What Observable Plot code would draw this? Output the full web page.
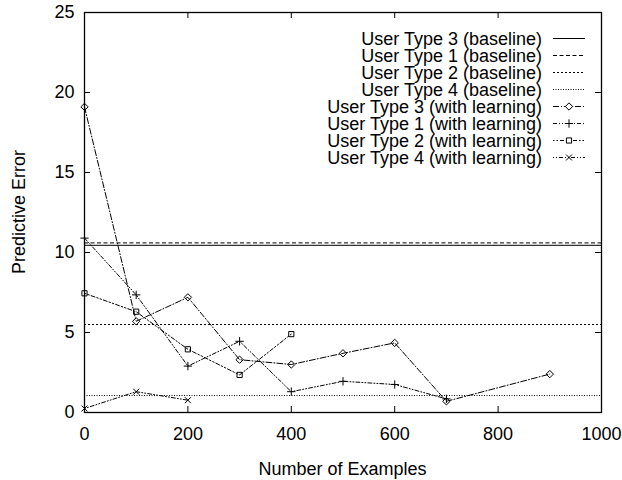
<!DOCTYPE html>
<html>
<head>
<meta charset="utf-8">
<script src="https://cdn.jsdelivr.net/npm/d3@7"></script>
<script src="https://cdn.jsdelivr.net/npm/@observablehq/plot@0.6"></script>
<style>
  body { margin: 0; background: #fff; }
  svg { font-family: "Liberation Sans", Arial, sans-serif; }
</style>
</head>
<body>
<div id="chart"></div>
<script>
// ---- data ----
const baselineNames = ["User Type 3 (baseline)", "User Type 1 (baseline)", "User Type 2 (baseline)", "User Type 4 (baseline)"];
const baselineValues = [10.45, 10.6, 5.5, 1.06];

const type3X = [0, 100, 200, 300, 400, 500, 600, 700, 900];
const type3Y = [19.1, 5.7, 7.2, 3.3, 3.0, 3.7, 4.35, 0.7, 2.4];
const type1X = [0, 100, 200, 300, 400, 500, 600, 700];
const type1Y = [10.9, 7.35, 2.9, 4.45, 1.3, 1.95, 1.75, 0.85];
const type2X = [0, 100, 200, 300, 400];
const type2Y = [7.45, 6.3, 3.95, 2.35, 4.9];
const type4X = [0, 100, 200];
const type4Y = [0.25, 1.3, 0.77];

const learningNames = ["User Type 3 (with learning)", "User Type 1 (with learning)", "User Type 2 (with learning)", "User Type 4 (with learning)"];

const xTicks = [0, 200, 400, 600, 800, 1000];
const yTicks = [0, 5, 10, 15, 20, 25];

// ---- styles ----
const baselineDash = [null, "4,2.5", "2,2", "1,1.5"];
const learningDash = ["6,2,1,2", "4,2,1,2,1,2", "1.5,2,1.5,2,4,2", "1,2,1,2,4,2"];
const symbols = ["diamond2", "plus", "square2", "times"];
const d3symbols = [d3.symbolDiamond2, d3.symbolPlus, d3.symbolSquare2, d3.symbolTimes];
const symR = [3.3, 2.8, 3.3, 2.8];

const series = [
  {x: type3X, y: type3Y},
  {x: type1X, y: type1Y},
  {x: type2X, y: type2Y},
  {x: type4X, y: type4Y}
].map((s, i) => s.x.map((x, j) => ({x, y: s.y[j], i})));

const W = 622, H = 480, mL = 84, mR = 21, mT = 12, mB = 68;
const fw = W - mL - mR, fh = H - mT - mB;
const tk = 6;
const FS = 18;

const marks = [];
baselineValues.forEach((v, i) => {
  marks.push(Plot.ruleY([v], {stroke: "#000", strokeWidth: 1, strokeDasharray: baselineDash[i]}));
});
series.forEach((s, i) => {
  marks.push(Plot.line(s, {x: "x", y: "y", stroke: "#000", strokeWidth: 1, strokeDasharray: learningDash[i]}));
  marks.push(Plot.dot(s, {x: "x", y: "y", symbol: () => symbols[i], r: symR[i], stroke: "#000", fill: "none", strokeWidth: 1}));
});
// inward ticks on all four sides
marks.push(Plot.ruleX(xTicks, {x: d => d, insetTop: fh - tk, stroke: "#000"}));
marks.push(Plot.ruleX(xTicks, {x: d => d, insetBottom: fh - tk, stroke: "#000"}));
marks.push(Plot.ruleY(yTicks, {y: d => d, insetRight: fw - tk, stroke: "#000"}));
marks.push(Plot.ruleY(yTicks, {y: d => d, insetLeft: fw - tk, stroke: "#000"}));
marks.push(Plot.frame({stroke: "#000", strokeWidth: 1.3}));
marks.push(Plot.axisX(xTicks, {anchor: "bottom", tickSize: 0, tickPadding: 15, fontSize: FS, label: null, tickFormat: d => String(d)}));
marks.push(Plot.axisY(yTicks, {anchor: "left", tickSize: 0, tickPadding: 10, fontSize: FS, label: null, tickFormat: d => String(d)}));

const chart = Plot.plot({
  width: W, height: H,
  marginLeft: mL, marginRight: mR, marginTop: mT, marginBottom: mB,
  style: {fontFamily: '"Liberation Sans", Arial, sans-serif', fontSize: FS + "px", color: "#000", background: "#fff"},
  x: {domain: [0, 1000]},
  y: {domain: [0, 25]},
  marks
});

const svg = d3.select(chart);
// axis titles
svg.append("text").attr("x", (mL + W - mR) / 2).attr("y", 469).attr("dy", "0.35em").attr("text-anchor", "middle")
  .attr("font-size", FS).attr("fill", "#000").text("Number of Examples");
svg.append("text").attr("transform", `translate(19,${(mT + H - mB) / 2}) rotate(-90)`).attr("dy", "0.35em").attr("text-anchor", "middle")
  .attr("font-size", FS).attr("fill", "#000").text("Predictive Error");

// legend
const legendNames = baselineNames.concat(learningNames);
const lg = svg.append("g");
const ly0 = 38.5, lstep = 17, tx = 542, sx1 = 553, sx2 = 585;
legendNames.forEach((name, k) => {
  const y = ly0 + k * lstep;
  lg.append("text").attr("x", tx).attr("y", y).attr("dy", "0.35em").attr("text-anchor", "end")
    .attr("font-size", FS).attr("fill", "#000").text(name);
  const dash = k < 4 ? baselineDash[k] : learningDash[k - 4];
  lg.append("line").attr("x1", sx1).attr("x2", sx2).attr("y1", y).attr("y2", y)
    .attr("stroke", "#000").attr("stroke-width", 1).attr("stroke-dasharray", dash);
  if (k >= 4) {
    const r = symR[k - 4];
    lg.append("path").attr("transform", `translate(${(sx1 + sx2) / 2},${y})`)
      .attr("d", d3.symbol(d3symbols[k - 4], r * r * Math.PI)())
      .attr("fill", "#fff").attr("stroke", "#000").attr("stroke-width", 1);
  }
});

document.getElementById("chart").appendChild(chart);
</script>
</body>
</html>
